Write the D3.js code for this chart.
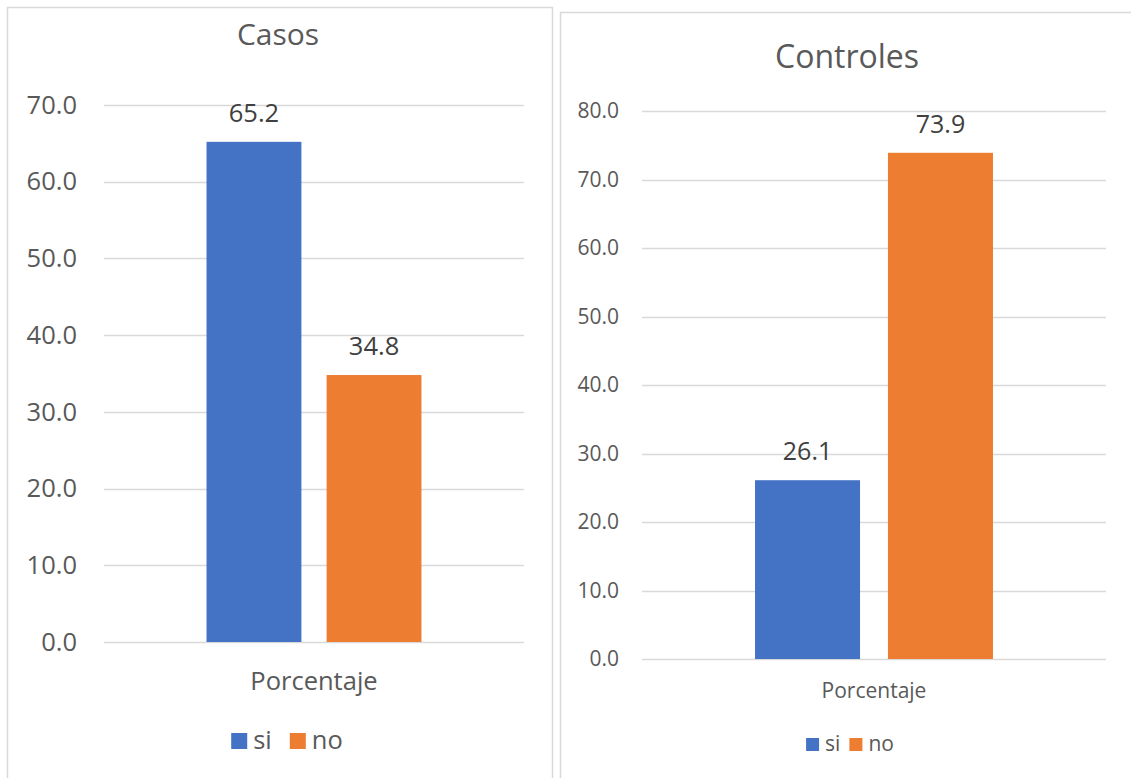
<!DOCTYPE html>
<html>
<head>
<meta charset="utf-8">
<script src="https://cdn.jsdelivr.net/npm/d3@7"></script>
<style>
  html, body { margin: 0; padding: 0; background: #fff; }
  svg { display: block; }
  text { font-family: "Open Sans", "Noto Sans", sans-serif; }
</style>
</head>
<body>
<svg id="chart" width="1131" height="778"></svg>
<script>
// Data
const category = "Porcentaje";
const seriesNames = ["si", "no"];
const seriesColors = ["#4472C4", "#ED7D31"];

const casosTitle = "Casos";
const casosValues = [65.2, 34.8];
const casosTicks = [0, 10, 20, 30, 40, 50, 60, 70];

const controlesTitle = "Controles";
const controlesValues = [26.1, 73.9];
const controlesTicks = [0, 10, 20, 30, 40, 50, 60, 70, 80];

const svg = d3.select("#chart");

function drawPanel(cfg) {
  const g = svg.append("g");

  // chart area border
  g.append("rect")
    .attr("x", cfg.box.x + 0.5).attr("y", cfg.box.y + 0.5)
    .attr("width", cfg.box.w).attr("height", cfg.box.h)
    .attr("fill", "#fff").attr("stroke", "#D9D9D9").attr("stroke-width", 1.5);

  // title
  g.append("text")
    .attr("x", cfg.titleX).attr("y", cfg.titleY)
    .attr("text-anchor", "middle")
    .attr("font-size", cfg.titleSize)
    .attr("fill", "#595959")
    .text(cfg.title);

  const y = d3.scaleLinear()
    .domain([0, d3.max(cfg.ticks)])
    .range([cfg.plot.bottom, cfg.plot.top]);

  // gridlines
  g.selectAll("line.grid").data(cfg.ticks).join("line")
    .attr("class", "grid")
    .attr("x1", cfg.plot.left).attr("x2", cfg.plot.right)
    .attr("y1", d => Math.round(y(d)) + 0.5).attr("y2", d => Math.round(y(d)) + 0.5)
    .attr("stroke", "#D9D9D9").attr("stroke-width", 1.5);

  // y axis labels
  const yAxis = d3.axisLeft(y).tickValues(cfg.ticks).tickFormat(d3.format(".1f")).tickSize(0).tickPadding(0);
  const ya = g.append("g")
    .attr("transform", `translate(${cfg.labelRight},0)`)
    .call(yAxis);
  ya.select(".domain").remove();
  ya.selectAll("text")
    .attr("font-size", cfg.tickSize)
    .attr("fill", "#595959")
    .attr("font-family", "Open Sans, sans-serif");

  // bars
  const x0 = d3.scaleBand().domain([category])
    .range([cfg.plot.left, cfg.plot.right])
    .paddingInner(0).paddingOuter(cfg.outerPad);
  const x1 = d3.scaleBand().domain(seriesNames)
    .range([0, x0.bandwidth()])
    .paddingInner(0.21);

  const rows = seriesNames.map((s, i) => ({ s, v: cfg.values[i], c: seriesColors[i] }));

  g.selectAll("rect.bar").data(rows).join("rect")
    .attr("class", "bar")
    .attr("x", d => x0(category) + x1(d.s))
    .attr("width", x1.bandwidth())
    .attr("y", d => y(d.v))
    .attr("height", d => y(0) - y(d.v))
    .attr("fill", d => d.c);

  // value labels
  g.selectAll("text.val").data(rows).join("text")
    .attr("class", "val")
    .attr("x", d => x0(category) + x1(d.s) + x1.bandwidth() / 2)
    .attr("y", d => y(d.v) - cfg.valueGap)
    .attr("text-anchor", "middle")
    .attr("font-size", cfg.valueSize)
    .attr("fill", "#404040")
    .text(d => d.v.toFixed(1));

  // category label
  g.append("text")
    .attr("x", x0(category) + x0.bandwidth() / 2)
    .attr("y", cfg.catY)
    .attr("text-anchor", "middle")
    .attr("font-size", cfg.catSize)
    .attr("fill", "#595959")
    .text(category);

  // legend
  const lg = g.append("g");
  let xpos = 0;
  seriesNames.forEach((s, i) => {
    const it = lg.append("g");
    it.append("rect")
      .attr("x", 0).attr("y", -cfg.sw)
      .attr("width", cfg.sw).attr("height", cfg.sw)
      .attr("fill", seriesColors[i]);
    const t = it.append("text")
      .attr("x", cfg.sw + cfg.textGap).attr("y", 0)
      .attr("font-size", cfg.legendSize)
      .attr("fill", "#595959")
      .text(s);
    const w = cfg.sw + cfg.textGap + t.node().getComputedTextLength();
    it.attr("transform", `translate(${xpos},0)`);
    xpos += w + cfg.itemGap;
  });
  const total = xpos - cfg.itemGap;
  lg.attr("transform", `translate(${cfg.legendX - total / 2},${cfg.legendY})`);
}

drawPanel({
  title: casosTitle, values: casosValues, ticks: casosTicks,
  box: { x: 7, y: 7, w: 545, h: 790 },
  titleX: 278, titleY: 45, titleSize: 30,
  plot: { left: 104, right: 524, top: 105, bottom: 642 },
  labelRight: 77, tickSize: 25.5,
  outerPad: 0.477,
  valueGap: 20, valueSize: 25.5,
  catY: 690, catSize: 25.5,
  legendX: 287, legendY: 749, sw: 16, textGap: 6, itemGap: 18, legendSize: 25.5
});

drawPanel({
  title: controlesTitle, values: controlesValues, ticks: controlesTicks,
  box: { x: 560, y: 12, w: 600, h: 790 },
  titleX: 847, titleY: 68, titleSize: 32,
  plot: { left: 642, right: 1106, top: 111, bottom: 659 },
  labelRight: 619, tickSize: 21,
  outerPad: 0.475,
  valueGap: 20, valueSize: 25,
  catY: 698, catSize: 21,
  legendX: 850, legendY: 751, sw: 13, textGap: 6, itemGap: 9, legendSize: 21
});
</script>
</body>
</html>
